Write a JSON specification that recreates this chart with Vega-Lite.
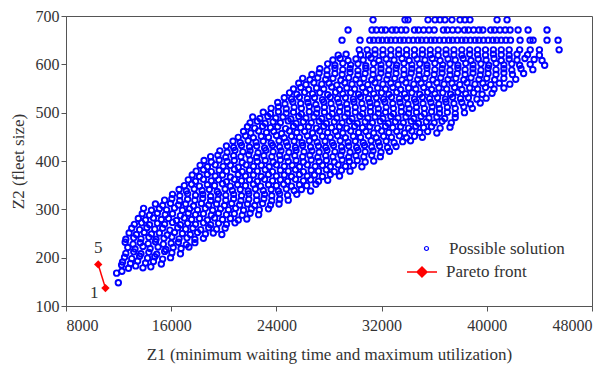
{
"$schema": "https://vega.github.io/schema/vega-lite/v6.json",
"width": 526, "height": 290,
"autosize": {"type": "none"},
"padding": {"left": 66, "top": 16, "right": 19, "bottom": 59},
"config": {
 "view": {"stroke": "#555", "strokeWidth": 1},
 "font": "Liberation Serif",
 "axis": {"labelFont": "Liberation Serif", "titleFont": "Liberation Serif", "labelFontSize": 16, "titleFontSize": 17, "titleFontWeight": "normal", "labelColor": "#333", "titleColor": "#333", "domainColor": "#555", "tickColor": "#555", "grid": false, "tickSize": 5},
 "legend": {"labelFont": "Liberation Serif", "labelFontSize": 17, "labelColor": "#333"}
},
"datasets": {
"cloud": [
{"z1":11980,"z2":148},{"z1":11850,"z2":168},{"z1":12250,"z2":172},
{"z1":12230,"z2":185},{"z1":12750,"z2":178},{"z1":13300,"z2":183},{"z1":13850,"z2":179},{"z1":14450,"z2":181},
{"z1":12300,"z2":191},{"z1":12900,"z2":188},{"z1":13450,"z2":193},{"z1":14050,"z2":189},{"z1":14650,"z2":192},{"z1":15250,"z2":187},
{"z1":12450,"z2":201},{"z1":13000,"z2":198},{"z1":13600,"z2":203},{"z1":14200,"z2":199},{"z1":14750,"z2":202},{"z1":15350,"z2":197},{"z1":15950,"z2":200},
{"z1":12550,"z2":209},{"z1":13150,"z2":212},{"z1":13700,"z2":208},{"z1":14300,"z2":211},{"z1":14900,"z2":207},{"z1":15500,"z2":213},{"z1":16050,"z2":210},{"z1":16700,"z2":208},
{"z1":12700,"z2":221},{"z1":13250,"z2":218},{"z1":13850,"z2":223},{"z1":14400,"z2":219},{"z1":15000,"z2":222},{"z1":15600,"z2":217},{"z1":16150,"z2":221},{"z1":16750,"z2":219},{"z1":17350,"z2":222},
{"z1":12500,"z2":232},{"z1":13100,"z2":228},{"z1":13650,"z2":231},{"z1":14250,"z2":229},{"z1":14800,"z2":233},{"z1":15400,"z2":228},{"z1":16000,"z2":230},{"z1":16550,"z2":232},{"z1":17150,"z2":227},{"z1":17800,"z2":231},
{"z1":12550,"z2":238},{"z1":13150,"z2":241},{"z1":13700,"z2":239},{"z1":14300,"z2":242},{"z1":14850,"z2":238},{"z1":15450,"z2":240},{"z1":16050,"z2":243},{"z1":16600,"z2":239},{"z1":17200,"z2":241},{"z1":17800,"z2":238},{"z1":18450,"z2":240},
{"z1":12800,"z2":251},{"z1":13350,"z2":248},{"z1":13950,"z2":252},{"z1":14500,"z2":249},{"z1":15100,"z2":251},{"z1":15700,"z2":247},{"z1":16250,"z2":252},{"z1":16850,"z2":250},{"z1":17450,"z2":248},{"z1":18000,"z2":252},{"z1":18600,"z2":249},{"z1":19200,"z2":251},{"z1":19850,"z2":248},
{"z1":13000,"z2":261},{"z1":13600,"z2":258},{"z1":14150,"z2":262},{"z1":14750,"z2":259},{"z1":15350,"z2":261},{"z1":15900,"z2":257},{"z1":16500,"z2":262},{"z1":17100,"z2":259},{"z1":17650,"z2":261},{"z1":18250,"z2":258},{"z1":18850,"z2":262},{"z1":19450,"z2":259},{"z1":20100,"z2":261},
{"z1":13200,"z2":269},{"z1":13750,"z2":272},{"z1":14350,"z2":268},{"z1":14950,"z2":271},{"z1":15500,"z2":269},{"z1":16100,"z2":273},{"z1":16700,"z2":268},{"z1":17250,"z2":271},{"z1":17850,"z2":269},{"z1":18450,"z2":272},{"z1":19000,"z2":268},{"z1":19600,"z2":271},{"z1":20200,"z2":269},{"z1":20850,"z2":272},
{"z1":13500,"z2":281},{"z1":14050,"z2":278},{"z1":14650,"z2":282},{"z1":15250,"z2":279},{"z1":15800,"z2":281},{"z1":16400,"z2":277},{"z1":17000,"z2":282},{"z1":17550,"z2":279},{"z1":18150,"z2":281},{"z1":18750,"z2":278},{"z1":19300,"z2":282},{"z1":19900,"z2":279},{"z1":20500,"z2":281},{"z1":21100,"z2":278},{"z1":21750,"z2":280},
{"z1":13800,"z2":291},{"z1":14350,"z2":288},{"z1":14950,"z2":292},{"z1":15550,"z2":289},{"z1":16100,"z2":291},{"z1":16700,"z2":287},{"z1":17300,"z2":292},{"z1":17850,"z2":289},{"z1":18450,"z2":291},{"z1":19050,"z2":288},{"z1":19600,"z2":292},{"z1":20200,"z2":289},{"z1":20800,"z2":291},{"z1":21400,"z2":288},{"z1":22000,"z2":292},{"z1":22650,"z2":289},
{"z1":13900,"z2":302},{"z1":14500,"z2":298},{"z1":15100,"z2":301},{"z1":15650,"z2":299},{"z1":16250,"z2":303},{"z1":16850,"z2":298},{"z1":17400,"z2":301},{"z1":18000,"z2":299},{"z1":18600,"z2":302},{"z1":19150,"z2":298},{"z1":19750,"z2":301},{"z1":20350,"z2":299},{"z1":20900,"z2":302},{"z1":21500,"z2":298},{"z1":22100,"z2":301},{"z1":22700,"z2":299},{"z1":23400,"z2":301},
{"z1":14800,"z2":311},{"z1":15350,"z2":308},{"z1":15950,"z2":312},{"z1":16550,"z2":309},{"z1":17100,"z2":311},{"z1":17700,"z2":307},{"z1":18300,"z2":312},{"z1":18850,"z2":309},{"z1":19450,"z2":311},{"z1":20050,"z2":308},{"z1":20600,"z2":312},{"z1":21200,"z2":309},{"z1":21800,"z2":311},{"z1":22350,"z2":308},{"z1":22950,"z2":312},{"z1":23550,"z2":309},{"z1":24200,"z2":311},
{"z1":15500,"z2":319},{"z1":16050,"z2":322},{"z1":16650,"z2":318},{"z1":17250,"z2":321},{"z1":17800,"z2":319},{"z1":18400,"z2":323},{"z1":19000,"z2":318},{"z1":19550,"z2":321},{"z1":20150,"z2":319},{"z1":20750,"z2":322},{"z1":21300,"z2":318},{"z1":21900,"z2":321},{"z1":22500,"z2":319},{"z1":23050,"z2":322},{"z1":23650,"z2":318},{"z1":24250,"z2":321},{"z1":24900,"z2":319},
{"z1":16100,"z2":331},{"z1":16650,"z2":328},{"z1":17250,"z2":332},{"z1":17850,"z2":329},{"z1":18400,"z2":331},{"z1":19000,"z2":327},{"z1":19600,"z2":332},{"z1":20150,"z2":329},{"z1":20750,"z2":331},{"z1":21350,"z2":328},{"z1":21900,"z2":332},{"z1":22500,"z2":329},{"z1":23100,"z2":331},{"z1":23650,"z2":328},{"z1":24250,"z2":332},{"z1":24850,"z2":329},{"z1":25550,"z2":331},
{"z1":16600,"z2":341},{"z1":17150,"z2":338},{"z1":17750,"z2":342},{"z1":18350,"z2":339},{"z1":18900,"z2":341},{"z1":19500,"z2":337},{"z1":20100,"z2":342},{"z1":20650,"z2":339},{"z1":21250,"z2":341},{"z1":21850,"z2":338},{"z1":22400,"z2":342},{"z1":23000,"z2":339},{"z1":23600,"z2":341},{"z1":24150,"z2":338},{"z1":24750,"z2":342},{"z1":25350,"z2":339},{"z1":25900,"z2":341},{"z1":26600,"z2":338},
{"z1":17000,"z2":349},{"z1":17550,"z2":352},{"z1":18150,"z2":348},{"z1":18750,"z2":351},{"z1":19300,"z2":349},{"z1":19900,"z2":353},{"z1":20500,"z2":348},{"z1":21050,"z2":351},{"z1":21650,"z2":349},{"z1":22250,"z2":352},{"z1":22800,"z2":348},{"z1":23400,"z2":351},{"z1":24000,"z2":349},{"z1":24550,"z2":352},{"z1":25150,"z2":348},{"z1":25750,"z2":351},{"z1":26300,"z2":349},{"z1":27000,"z2":352},
{"z1":17300,"z2":361},{"z1":17850,"z2":358},{"z1":18450,"z2":362},{"z1":19050,"z2":359},{"z1":19600,"z2":361},{"z1":20200,"z2":357},{"z1":20800,"z2":362},{"z1":21350,"z2":359},{"z1":21950,"z2":361},{"z1":22550,"z2":358},{"z1":23100,"z2":362},{"z1":23700,"z2":359},{"z1":24300,"z2":361},{"z1":24850,"z2":358},{"z1":25450,"z2":362},{"z1":26050,"z2":359},{"z1":26600,"z2":361},{"z1":27200,"z2":358},{"z1":27900,"z2":360},
{"z1":17600,"z2":371},{"z1":18150,"z2":368},{"z1":18750,"z2":372},{"z1":19350,"z2":369},{"z1":19900,"z2":371},{"z1":20500,"z2":367},{"z1":21100,"z2":372},{"z1":21650,"z2":369},{"z1":22250,"z2":371},{"z1":22850,"z2":368},{"z1":23400,"z2":372},{"z1":24000,"z2":369},{"z1":24600,"z2":371},{"z1":25150,"z2":368},{"z1":25750,"z2":372},{"z1":26350,"z2":369},{"z1":26900,"z2":371},{"z1":27500,"z2":368},{"z1":28100,"z2":372},{"z1":28800,"z2":369},
{"z1":17900,"z2":379},{"z1":18450,"z2":382},{"z1":19050,"z2":378},{"z1":19650,"z2":381},{"z1":20200,"z2":379},{"z1":20800,"z2":383},{"z1":21400,"z2":378},{"z1":21950,"z2":381},{"z1":22550,"z2":379},{"z1":23150,"z2":382},{"z1":23700,"z2":378},{"z1":24300,"z2":381},{"z1":24900,"z2":379},{"z1":25450,"z2":382},{"z1":26050,"z2":378},{"z1":26650,"z2":381},{"z1":27200,"z2":379},{"z1":27800,"z2":382},{"z1":28400,"z2":378},{"z1":28950,"z2":381},{"z1":29600,"z2":379},
{"z1":18200,"z2":391},{"z1":18750,"z2":388},{"z1":19350,"z2":392},{"z1":19950,"z2":389},{"z1":20500,"z2":391},{"z1":21100,"z2":387},{"z1":21700,"z2":392},{"z1":22250,"z2":389},{"z1":22850,"z2":391},{"z1":23450,"z2":388},{"z1":24000,"z2":392},{"z1":24600,"z2":389},{"z1":25200,"z2":391},{"z1":25750,"z2":388},{"z1":26350,"z2":392},{"z1":26950,"z2":389},{"z1":27500,"z2":391},{"z1":28100,"z2":388},{"z1":28700,"z2":392},{"z1":29250,"z2":389},{"z1":29850,"z2":391},{"z1":30500,"z2":388},
{"z1":18500,"z2":401},{"z1":19050,"z2":398},{"z1":19650,"z2":402},{"z1":20250,"z2":399},{"z1":20800,"z2":401},{"z1":21400,"z2":397},{"z1":22000,"z2":402},{"z1":22550,"z2":399},{"z1":23150,"z2":401},{"z1":23750,"z2":398},{"z1":24300,"z2":402},{"z1":24900,"z2":399},{"z1":25500,"z2":401},{"z1":26050,"z2":398},{"z1":26650,"z2":402},{"z1":27250,"z2":399},{"z1":27800,"z2":401},{"z1":28400,"z2":398},{"z1":29000,"z2":402},{"z1":29550,"z2":399},{"z1":30150,"z2":401},{"z1":30750,"z2":398},{"z1":31400,"z2":400},
{"z1":19000,"z2":409},{"z1":19550,"z2":412},{"z1":20150,"z2":408},{"z1":20750,"z2":411},{"z1":21300,"z2":409},{"z1":21900,"z2":413},{"z1":22500,"z2":408},{"z1":23050,"z2":411},{"z1":23650,"z2":409},{"z1":24250,"z2":412},{"z1":24800,"z2":408},{"z1":25400,"z2":411},{"z1":26000,"z2":409},{"z1":26550,"z2":412},{"z1":27150,"z2":408},{"z1":27750,"z2":411},{"z1":28300,"z2":409},{"z1":28900,"z2":412},{"z1":29500,"z2":408},{"z1":30050,"z2":411},{"z1":30650,"z2":409},{"z1":31250,"z2":412},{"z1":31900,"z2":409},
{"z1":19700,"z2":421},{"z1":20250,"z2":418},{"z1":20850,"z2":422},{"z1":21450,"z2":419},{"z1":22000,"z2":421},{"z1":22600,"z2":417},{"z1":23200,"z2":422},{"z1":23750,"z2":419},{"z1":24350,"z2":421},{"z1":24950,"z2":418},{"z1":25500,"z2":422},{"z1":26100,"z2":419},{"z1":26700,"z2":421},{"z1":27250,"z2":418},{"z1":27850,"z2":422},{"z1":28450,"z2":419},{"z1":29000,"z2":421},{"z1":29600,"z2":418},{"z1":30200,"z2":422},{"z1":30750,"z2":419},{"z1":31350,"z2":421},{"z1":31950,"z2":418},{"z1":32600,"z2":420},
{"z1":20200,"z2":431},{"z1":20750,"z2":428},{"z1":21350,"z2":432},{"z1":21950,"z2":429},{"z1":22500,"z2":431},{"z1":23100,"z2":427},{"z1":23700,"z2":432},{"z1":24250,"z2":429},{"z1":24850,"z2":431},{"z1":25450,"z2":428},{"z1":26000,"z2":432},{"z1":26600,"z2":429},{"z1":27200,"z2":431},{"z1":27750,"z2":428},{"z1":28350,"z2":432},{"z1":28950,"z2":429},{"z1":29500,"z2":431},{"z1":30100,"z2":428},{"z1":30700,"z2":432},{"z1":31250,"z2":429},{"z1":31850,"z2":431},{"z1":32450,"z2":428},{"z1":33100,"z2":430},
{"z1":20700,"z2":441},{"z1":21250,"z2":438},{"z1":21850,"z2":442},{"z1":22450,"z2":439},{"z1":23000,"z2":441},{"z1":23600,"z2":437},{"z1":24200,"z2":442},{"z1":24750,"z2":439},{"z1":25350,"z2":441},{"z1":25950,"z2":438},{"z1":26500,"z2":442},{"z1":27100,"z2":439},{"z1":27700,"z2":441},{"z1":28250,"z2":438},{"z1":28850,"z2":442},{"z1":29450,"z2":439},{"z1":30000,"z2":441},{"z1":30600,"z2":438},{"z1":31200,"z2":442},{"z1":31750,"z2":439},{"z1":32350,"z2":441},{"z1":32950,"z2":438},{"z1":33600,"z2":440},{"z1":34200,"z2":442},
{"z1":21100,"z2":449},{"z1":21650,"z2":452},{"z1":22250,"z2":448},{"z1":22850,"z2":451},{"z1":23400,"z2":449},{"z1":24000,"z2":453},{"z1":24600,"z2":448},{"z1":25150,"z2":451},{"z1":25750,"z2":449},{"z1":26350,"z2":452},{"z1":26900,"z2":448},{"z1":27500,"z2":451},{"z1":28100,"z2":449},{"z1":28650,"z2":452},{"z1":29250,"z2":448},{"z1":29850,"z2":451},{"z1":30400,"z2":449},{"z1":31000,"z2":452},{"z1":31600,"z2":448},{"z1":32150,"z2":451},{"z1":32750,"z2":449},{"z1":33350,"z2":452},{"z1":33900,"z2":448},{"z1":34500,"z2":451},{"z1":35100,"z2":449},
{"z1":21500,"z2":461},{"z1":22050,"z2":458},{"z1":22650,"z2":462},{"z1":23250,"z2":459},{"z1":23800,"z2":461},{"z1":24400,"z2":457},{"z1":25000,"z2":462},{"z1":25550,"z2":459},{"z1":26150,"z2":461},{"z1":26750,"z2":458},{"z1":27300,"z2":462},{"z1":27900,"z2":459},{"z1":28500,"z2":461},{"z1":29050,"z2":458},{"z1":29650,"z2":462},{"z1":30250,"z2":459},{"z1":30800,"z2":461},{"z1":31400,"z2":458},{"z1":32000,"z2":462},{"z1":32550,"z2":459},{"z1":33150,"z2":461},{"z1":33750,"z2":458},{"z1":34300,"z2":462},{"z1":34900,"z2":459},{"z1":35500,"z2":461},{"z1":36200,"z2":458},
{"z1":21800,"z2":471},{"z1":22350,"z2":468},{"z1":22950,"z2":472},{"z1":23550,"z2":469},{"z1":24100,"z2":471},{"z1":24700,"z2":467},{"z1":25300,"z2":472},{"z1":25850,"z2":469},{"z1":26450,"z2":471},{"z1":27050,"z2":468},{"z1":27600,"z2":472},{"z1":28200,"z2":469},{"z1":28800,"z2":471},{"z1":29350,"z2":468},{"z1":29950,"z2":472},{"z1":30550,"z2":469},{"z1":31100,"z2":471},{"z1":31700,"z2":468},{"z1":32300,"z2":472},{"z1":32850,"z2":469},{"z1":33450,"z2":471},{"z1":34050,"z2":468},{"z1":34600,"z2":472},{"z1":35200,"z2":469},{"z1":35800,"z2":471},{"z1":36450,"z2":468},{"z1":37200,"z2":470},
{"z1":22000,"z2":479},{"z1":22550,"z2":482},{"z1":23150,"z2":478},{"z1":23750,"z2":481},{"z1":24300,"z2":479},{"z1":24900,"z2":483},{"z1":25500,"z2":478},{"z1":26050,"z2":481},{"z1":26650,"z2":479},{"z1":27250,"z2":482},{"z1":27800,"z2":478},{"z1":28400,"z2":481},{"z1":29000,"z2":479},{"z1":29550,"z2":482},{"z1":30150,"z2":478},{"z1":30750,"z2":481},{"z1":31300,"z2":479},{"z1":31900,"z2":482},{"z1":32500,"z2":478},{"z1":33050,"z2":481},{"z1":33650,"z2":479},{"z1":34250,"z2":482},{"z1":34800,"z2":478},{"z1":35400,"z2":481},{"z1":36000,"z2":479},{"z1":36600,"z2":482},{"z1":37300,"z2":479},
{"z1":22200,"z2":491},{"z1":22750,"z2":488},{"z1":23350,"z2":492},{"z1":23950,"z2":489},{"z1":24500,"z2":491},{"z1":25100,"z2":487},{"z1":25700,"z2":492},{"z1":26250,"z2":489},{"z1":26850,"z2":491},{"z1":27450,"z2":488},{"z1":28000,"z2":492},{"z1":28600,"z2":489},{"z1":29200,"z2":491},{"z1":29750,"z2":488},{"z1":30350,"z2":492},{"z1":30950,"z2":489},{"z1":31500,"z2":491},{"z1":32100,"z2":488},{"z1":32700,"z2":492},{"z1":33250,"z2":489},{"z1":33850,"z2":491},{"z1":34450,"z2":488},{"z1":35000,"z2":492},{"z1":35600,"z2":489},{"z1":36200,"z2":491},{"z1":36800,"z2":488},{"z1":37600,"z2":490},
{"z1":23000,"z2":501},{"z1":23550,"z2":498},{"z1":24150,"z2":502},{"z1":24750,"z2":499},{"z1":25300,"z2":501},{"z1":25900,"z2":497},{"z1":26500,"z2":502},{"z1":27050,"z2":499},{"z1":27650,"z2":501},{"z1":28250,"z2":498},{"z1":28800,"z2":502},{"z1":29400,"z2":499},{"z1":30000,"z2":501},{"z1":30550,"z2":498},{"z1":31150,"z2":502},{"z1":31750,"z2":499},{"z1":32300,"z2":501},{"z1":32900,"z2":498},{"z1":33500,"z2":502},{"z1":34050,"z2":499},{"z1":34650,"z2":501},{"z1":35250,"z2":498},{"z1":35800,"z2":502},{"z1":36400,"z2":499},{"z1":37000,"z2":501},{"z1":37600,"z2":498},{"z1":38300,"z2":500},
{"z1":23600,"z2":509},{"z1":24150,"z2":512},{"z1":24750,"z2":508},{"z1":25350,"z2":511},{"z1":25900,"z2":509},{"z1":26500,"z2":513},{"z1":27100,"z2":508},{"z1":27650,"z2":511},{"z1":28250,"z2":509},{"z1":28850,"z2":512},{"z1":29400,"z2":508},{"z1":30000,"z2":511},{"z1":30600,"z2":509},{"z1":31150,"z2":512},{"z1":31750,"z2":508},{"z1":32350,"z2":511},{"z1":32900,"z2":509},{"z1":33500,"z2":512},{"z1":34100,"z2":508},{"z1":34650,"z2":511},{"z1":35250,"z2":509},{"z1":35850,"z2":512},{"z1":36400,"z2":508},{"z1":37000,"z2":511},{"z1":37600,"z2":509},{"z1":38250,"z2":512},{"z1":38900,"z2":509},
{"z1":24100,"z2":521},{"z1":24650,"z2":518},{"z1":25250,"z2":522},{"z1":25850,"z2":519},{"z1":26400,"z2":521},{"z1":27000,"z2":517},{"z1":27600,"z2":522},{"z1":28150,"z2":519},{"z1":28750,"z2":521},{"z1":29350,"z2":518},{"z1":29900,"z2":522},{"z1":30500,"z2":519},{"z1":31100,"z2":521},{"z1":31650,"z2":518},{"z1":32250,"z2":522},{"z1":32850,"z2":519},{"z1":33400,"z2":521},{"z1":34000,"z2":518},{"z1":34600,"z2":522},{"z1":35150,"z2":519},{"z1":35750,"z2":521},{"z1":36350,"z2":518},{"z1":36900,"z2":522},{"z1":37500,"z2":519},{"z1":38100,"z2":521},{"z1":38750,"z2":518},{"z1":39500,"z2":520},
{"z1":24600,"z2":531},{"z1":25150,"z2":528},{"z1":25750,"z2":532},{"z1":26350,"z2":529},{"z1":26900,"z2":531},{"z1":27500,"z2":527},{"z1":28100,"z2":532},{"z1":28650,"z2":529},{"z1":29250,"z2":531},{"z1":29850,"z2":528},{"z1":30400,"z2":532},{"z1":31000,"z2":529},{"z1":31600,"z2":531},{"z1":32150,"z2":528},{"z1":32750,"z2":532},{"z1":33350,"z2":529},{"z1":33900,"z2":531},{"z1":34500,"z2":528},{"z1":35100,"z2":532},{"z1":35650,"z2":529},{"z1":36250,"z2":531},{"z1":36850,"z2":528},{"z1":37400,"z2":532},{"z1":38000,"z2":529},{"z1":38600,"z2":531},{"z1":39250,"z2":528},{"z1":39950,"z2":530},
{"z1":25000,"z2":541},{"z1":25550,"z2":538},{"z1":26150,"z2":542},{"z1":26750,"z2":539},{"z1":27300,"z2":541},{"z1":27900,"z2":537},{"z1":28500,"z2":542},{"z1":29050,"z2":539},{"z1":29650,"z2":541},{"z1":30250,"z2":538},{"z1":30800,"z2":542},{"z1":31400,"z2":539},{"z1":32000,"z2":541},{"z1":32550,"z2":538},{"z1":33150,"z2":542},{"z1":33750,"z2":539},{"z1":34300,"z2":541},{"z1":34900,"z2":538},{"z1":35500,"z2":542},{"z1":36050,"z2":539},{"z1":36650,"z2":541},{"z1":37250,"z2":538},{"z1":37800,"z2":542},{"z1":38400,"z2":539},{"z1":39000,"z2":541},{"z1":39650,"z2":538},{"z1":40400,"z2":540},
{"z1":25300,"z2":549},{"z1":25850,"z2":552},{"z1":26450,"z2":548},{"z1":27050,"z2":551},{"z1":27600,"z2":549},{"z1":28200,"z2":553},{"z1":28800,"z2":548},{"z1":29350,"z2":551},{"z1":29950,"z2":549},{"z1":30550,"z2":552},{"z1":31100,"z2":548},{"z1":31700,"z2":551},{"z1":32300,"z2":549},{"z1":32850,"z2":552},{"z1":33450,"z2":548},{"z1":34050,"z2":551},{"z1":34600,"z2":549},{"z1":35200,"z2":552},{"z1":35800,"z2":548},{"z1":36350,"z2":551},{"z1":36950,"z2":549},{"z1":37550,"z2":552},{"z1":38100,"z2":548},{"z1":38700,"z2":551},{"z1":39300,"z2":549},{"z1":39900,"z2":552},{"z1":40550,"z2":549},{"z1":41300,"z2":551},
{"z1":25700,"z2":561},{"z1":26250,"z2":558},{"z1":26850,"z2":562},{"z1":27450,"z2":559},{"z1":28000,"z2":561},{"z1":28600,"z2":557},{"z1":29200,"z2":562},{"z1":29750,"z2":559},{"z1":30350,"z2":561},{"z1":30950,"z2":558},{"z1":31500,"z2":562},{"z1":32100,"z2":559},{"z1":32700,"z2":561},{"z1":33250,"z2":558},{"z1":33850,"z2":562},{"z1":34450,"z2":559},{"z1":35000,"z2":561},{"z1":35600,"z2":558},{"z1":36200,"z2":562},{"z1":36750,"z2":559},{"z1":37350,"z2":561},{"z1":37950,"z2":558},{"z1":38500,"z2":562},{"z1":39100,"z2":559},{"z1":39700,"z2":561},{"z1":40300,"z2":558},{"z1":40950,"z2":561},{"z1":41750,"z2":559},
{"z1":26000,"z2":571},{"z1":26550,"z2":568},{"z1":27150,"z2":572},{"z1":27750,"z2":569},{"z1":28300,"z2":571},{"z1":28900,"z2":567},{"z1":29500,"z2":572},{"z1":30050,"z2":569},{"z1":30650,"z2":571},{"z1":31250,"z2":568},{"z1":31800,"z2":572},{"z1":32400,"z2":569},{"z1":33000,"z2":571},{"z1":33550,"z2":568},{"z1":34150,"z2":572},{"z1":34750,"z2":569},{"z1":35300,"z2":571},{"z1":35900,"z2":568},{"z1":36500,"z2":572},{"z1":37050,"z2":569},{"z1":37650,"z2":571},{"z1":38250,"z2":568},{"z1":38800,"z2":572},{"z1":39400,"z2":569},{"z1":40000,"z2":571},{"z1":40600,"z2":568},{"z1":41300,"z2":571},{"z1":42200,"z2":569},
{"z1":26700,"z2":579},{"z1":27250,"z2":582},{"z1":27850,"z2":578},{"z1":28450,"z2":581},{"z1":29000,"z2":579},{"z1":29600,"z2":583},{"z1":30200,"z2":578},{"z1":30750,"z2":581},{"z1":31350,"z2":579},{"z1":31950,"z2":582},{"z1":32500,"z2":578},{"z1":33100,"z2":581},{"z1":33700,"z2":579},{"z1":34250,"z2":582},{"z1":34850,"z2":578},{"z1":35450,"z2":581},{"z1":36000,"z2":579},{"z1":36600,"z2":582},{"z1":37200,"z2":578},{"z1":37750,"z2":581},{"z1":38350,"z2":579},{"z1":38950,"z2":582},{"z1":39500,"z2":578},{"z1":40100,"z2":581},{"z1":40700,"z2":579},{"z1":41300,"z2":582},{"z1":41950,"z2":579},{"z1":42800,"z2":581},
{"z1":27300,"z2":591},{"z1":27850,"z2":588},{"z1":28450,"z2":592},{"z1":29050,"z2":589},{"z1":29600,"z2":591},{"z1":30200,"z2":587},{"z1":30800,"z2":592},{"z1":31350,"z2":589},{"z1":31950,"z2":591},{"z1":32550,"z2":588},{"z1":33100,"z2":592},{"z1":33700,"z2":589},{"z1":34300,"z2":591},{"z1":34850,"z2":588},{"z1":35450,"z2":592},{"z1":36050,"z2":589},{"z1":36600,"z2":591},{"z1":37200,"z2":588},{"z1":37800,"z2":592},{"z1":38350,"z2":589},{"z1":38950,"z2":591},{"z1":39550,"z2":588},{"z1":40100,"z2":592},{"z1":40700,"z2":589},{"z1":41300,"z2":591},{"z1":41900,"z2":588},{"z1":42600,"z2":591},{"z1":43500,"z2":589},
{"z1":27900,"z2":601},{"z1":28450,"z2":598},{"z1":29050,"z2":602},{"z1":29650,"z2":599},{"z1":30200,"z2":601},{"z1":30800,"z2":597},{"z1":31400,"z2":602},{"z1":31950,"z2":599},{"z1":32550,"z2":601},{"z1":33150,"z2":598},{"z1":33700,"z2":602},{"z1":34300,"z2":599},{"z1":34900,"z2":601},{"z1":35450,"z2":598},{"z1":36050,"z2":602},{"z1":36650,"z2":599},{"z1":37200,"z2":601},{"z1":37800,"z2":598},{"z1":38400,"z2":602},{"z1":38950,"z2":599},{"z1":39550,"z2":601},{"z1":40150,"z2":598},{"z1":40700,"z2":602},{"z1":41300,"z2":599},{"z1":41900,"z2":601},{"z1":42500,"z2":598},{"z1":43300,"z2":600},{"z1":44400,"z2":598},{"z1":44200,"z2":608},
{"z1":28300,"z2":609},{"z1":28850,"z2":612},{"z1":29450,"z2":608},{"z1":30050,"z2":611},{"z1":30600,"z2":609},{"z1":31200,"z2":613},{"z1":31800,"z2":608},{"z1":32350,"z2":611},{"z1":32950,"z2":609},{"z1":33550,"z2":612},{"z1":34100,"z2":608},{"z1":34700,"z2":611},{"z1":35300,"z2":609},{"z1":35850,"z2":612},{"z1":36450,"z2":608},{"z1":37050,"z2":611},{"z1":37600,"z2":609},{"z1":38200,"z2":612},{"z1":38800,"z2":608},{"z1":39350,"z2":611},{"z1":39950,"z2":609},{"z1":40550,"z2":612},{"z1":41100,"z2":608},{"z1":41700,"z2":611},{"z1":42300,"z2":609},{"z1":42900,"z2":612},{"z1":43600,"z2":610},
{"z1":28700,"z2":619},{"z1":29300,"z2":621},{"z1":30400,"z2":620},{"z1":31000,"z2":619},{"z1":31500,"z2":621},{"z1":32100,"z2":620},{"z1":32700,"z2":619},{"z1":33300,"z2":621},{"z1":33900,"z2":620},{"z1":34500,"z2":619},{"z1":35100,"z2":621},{"z1":35700,"z2":620},{"z1":36300,"z2":619},{"z1":36900,"z2":621},{"z1":37500,"z2":620},{"z1":38100,"z2":619},{"z1":38700,"z2":621},{"z1":39300,"z2":620},{"z1":39900,"z2":619},{"z1":40500,"z2":621},{"z1":41100,"z2":620},{"z1":41700,"z2":619},{"z1":42300,"z2":621},{"z1":43100,"z2":620},{"z1":44000,"z2":619},
{"z1":30300,"z2":630},{"z1":30900,"z2":630},{"z1":31500,"z2":630},{"z1":32100,"z2":630},{"z1":32700,"z2":630},{"z1":33300,"z2":630},{"z1":33900,"z2":630},{"z1":34500,"z2":630},{"z1":35100,"z2":630},{"z1":35700,"z2":630},{"z1":36300,"z2":630},{"z1":36900,"z2":630},{"z1":37500,"z2":630},{"z1":38100,"z2":630},{"z1":38700,"z2":630},{"z1":39300,"z2":630},{"z1":39900,"z2":630},{"z1":40500,"z2":630},{"z1":41100,"z2":630},{"z1":41700,"z2":630},{"z1":42500,"z2":630},{"z1":43300,"z2":630},{"z1":44000,"z2":630},{"z1":45500,"z2":630},
{"z1":28990,"z2":650},{"z1":30360,"z2":650},{"z1":31100,"z2":650},{"z1":31400,"z2":650},{"z1":31750,"z2":650},{"z1":32050,"z2":650},{"z1":32400,"z2":650},{"z1":32700,"z2":650},{"z1":33050,"z2":650},{"z1":33400,"z2":650},{"z1":33700,"z2":650},{"z1":34050,"z2":650},{"z1":34400,"z2":650},{"z1":34750,"z2":650},{"z1":35050,"z2":650},{"z1":35400,"z2":650},{"z1":35750,"z2":650},{"z1":36050,"z2":650},{"z1":36400,"z2":650},{"z1":36750,"z2":650},{"z1":37100,"z2":650},{"z1":37400,"z2":650},{"z1":37750,"z2":650},{"z1":38100,"z2":650},{"z1":38400,"z2":650},{"z1":38750,"z2":650},{"z1":39100,"z2":650},{"z1":39400,"z2":650},{"z1":39750,"z2":650},{"z1":40100,"z2":650},{"z1":40450,"z2":650},{"z1":40750,"z2":650},{"z1":41100,"z2":650},{"z1":41450,"z2":650},{"z1":41800,"z2":650},{"z1":42530,"z2":650},{"z1":43290,"z2":650},{"z1":43520,"z2":650},{"z1":44580,"z2":650},{"z1":45420,"z2":650},
{"z1":29450,"z2":671},{"z1":31270,"z2":671},{"z1":31600,"z2":671},{"z1":32000,"z2":671},{"z1":32300,"z2":671},{"z1":32800,"z2":671},{"z1":33100,"z2":671},{"z1":33500,"z2":671},{"z1":33850,"z2":671},{"z1":34500,"z2":671},{"z1":34800,"z2":671},{"z1":35200,"z2":671},{"z1":35600,"z2":671},{"z1":36000,"z2":671},{"z1":36700,"z2":671},{"z1":37000,"z2":671},{"z1":37400,"z2":671},{"z1":37800,"z2":671},{"z1":38300,"z2":671},{"z1":38600,"z2":671},{"z1":39000,"z2":671},{"z1":39400,"z2":671},{"z1":39700,"z2":671},{"z1":40300,"z2":671},{"z1":40600,"z2":671},{"z1":41000,"z2":671},{"z1":41400,"z2":671},{"z1":41770,"z2":671},{"z1":42380,"z2":671},{"z1":43140,"z2":671},{"z1":44580,"z2":671},
{"z1":31350,"z2":692},{"z1":33780,"z2":692},{"z1":34010,"z2":692},{"z1":35530,"z2":692},{"z1":36060,"z2":692},{"z1":36440,"z2":692},{"z1":36820,"z2":692},{"z1":37350,"z2":692},{"z1":37960,"z2":692},{"z1":38340,"z2":692},{"z1":38720,"z2":692},{"z1":40780,"z2":692},{"z1":41540,"z2":692}
],
"pareto": [{"z1":11000,"z2":137,"id":1},{"z1":10450,"z2":186,"id":5}],
"notes": [{"z1":10150,"z2":126,"label":"1"},{"z1":10450,"z2":219,"label":"5"}]
},
"layer": [
 {"data": {"name": "cloud"},
  "mark": {"type": "point", "shape": "circle", "filled": false, "color": "#0000ff", "size": 30, "strokeWidth": 1.9, "opacity": 1},
  "encoding": {
   "x": {"field": "z1", "type": "quantitative", "scale": {"domain": [8000, 48000], "nice": false, "zero": false},
     "axis": {"values": [8000, 16000, 24000, 32000, 40000, 48000], "format": "d", "title": "Z1 (minimum waiting time and maximum utilization)", "labelFont": "Liberation Serif", "titleFont": "Liberation Serif", "labelFontSize": 16, "titleFontSize": 17, "labelPadding": 6, "titlePadding": 13}},
   "y": {"field": "z2", "type": "quantitative", "scale": {"domain": [100, 700], "nice": false, "zero": false},
     "axis": {"values": [100, 200, 300, 400, 500, 600, 700], "title": "Z2 (fleet size)", "labelFont": "Liberation Serif", "titleFont": "Liberation Serif", "labelFontSize": 16, "titleFontSize": 17, "labelPadding": 2, "titlePadding": 8}},
   "shape": {"datum": "Possible solution", "type": "nominal", "scale": {"range": ["circle"]},
     "legend": {"orient": "none", "legendX": 352, "legendY": 224, "title": null, "labelFont": "Liberation Serif", "labelFontSize": 17, "symbolSize": 16, "symbolStrokeColor": "#0000ff", "symbolFillColor": "#ffffff", "symbolStrokeWidth": 1.2, "labelOffset": 14}}
  }},
 {"data": {"name": "pareto"},
  "mark": {"type": "line", "color": "#ff0000", "strokeWidth": 1.5},
  "encoding": {"x": {"field": "z1", "type": "quantitative"}, "y": {"field": "z2", "type": "quantitative"}}},
 {"data": {"name": "pareto"},
  "mark": {"type": "point", "shape": "diamond", "filled": true, "size": 70, "opacity": 1},
  "encoding": {"x": {"field": "z1", "type": "quantitative"}, "y": {"field": "z2", "type": "quantitative"},
   "color": {"datum": "Pareto front", "type": "nominal", "scale": {"range": ["#ff0000"]},
     "legend": {"orient": "none", "legendX": 340, "legendY": 240, "title": null, "labelFont": "Liberation Serif", "labelFontSize": 17, "symbolType": "M-1,0L1,0M0,-0.33L0.33,0L0,0.33L-0.33,0Z", "symbolSize": 900, "symbolStrokeColor": "#ff0000", "symbolStrokeWidth": 1.5, "symbolOpacity": 1, "labelOffset": 8}}}},
 {"data": {"name": "notes"},
  "mark": {"type": "text", "font": "Liberation Serif", "fontSize": 17, "color": "#333", "align": "center", "baseline": "middle"},
  "encoding": {"x": {"field": "z1", "type": "quantitative"}, "y": {"field": "z2", "type": "quantitative"}, "text": {"field": "label"}}}
]
}
